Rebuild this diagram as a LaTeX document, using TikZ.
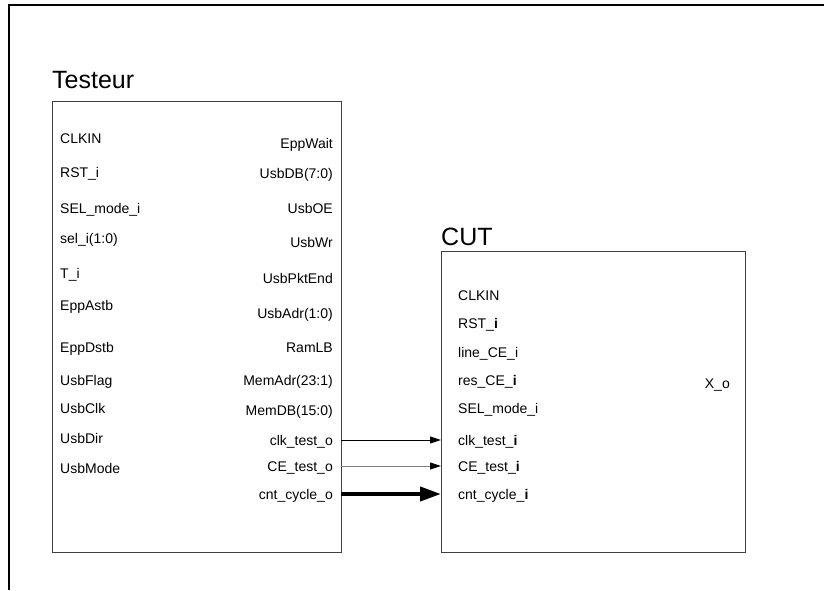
\documentclass[tikz,border=0pt]{standalone}
\usepackage{fontspec}
\setmainfont{Liberation Sans}
\usepackage{xcolor}
\definecolor{edge}{RGB}{64,64,64}
\usepackage{tikz}
\usetikzlibrary{arrows.meta}
\tikzset{
  block/.style={draw=edge,line width=1.2pt,anchor=north west,inner sep=0pt},
  title/.style={font=\fontsize{25}{28}\selectfont,anchor=base west,inner sep=0pt},
  port/.style={font=\fontsize{14}{16}\selectfont,text height=10pt,%
    text depth=0pt,inner ysep=0pt},
  inport/.style={port,anchor=west,inner xsep=8pt},
  outport/.style={port,anchor=east,inner xsep=8pt},
  flow/.style={-{Triangle[length=11pt,width=7pt,color=black]},line width=1pt},
  bus/.style={-{Triangle[length=21pt,width=14pt]},line width=4pt},
}

\begin{document}
\begin{tikzpicture}[x=1pt,y=-1pt]
\useasboundingbox (0,0) rectangle (824,590);
\draw[line width=2pt] (9,590) -- (9,5) -- (824,5);
% blocks
\node[block,minimum width=289pt,minimum height=451pt] (tst) at (52,101) {};
\node[title] (tsttitle) at (52,88) {Testeur};
\node[block,minimum width=304pt,minimum height=301pt] (cut) at (441,251) {};
\node[title] (cuttitle) at (441,245) {CUT};
% Testeur ports
\foreach \y/\t [count=\i] in {138/CLKIN,172/RST\_i,208/SEL\_mode\_i,238/sel\_i(1:0),
    273/T\_i,305/EppAstb,347/EppDstb,380/UsbFlag,408/UsbClk,438/UsbDir,468/UsbMode}
  \node[inport] (tin\i) at (52,\y) {\t};
\foreach \y/\t [count=\i] in {143/EppWait,173/UsbDB(7:0),208/UsbOE,242/UsbWr,
    278/UsbPktEnd,313/UsbAdr(1:0),347/RamLB,380/MemAdr(23:1),410/MemDB(15:0)}
  \node[outport] (tout\i) at (341,\y) {\t};
\node[outport] (clko) at (341,440) {clk\_test\_o};
\node[outport] (ceo) at (341,466) {CE\_test\_o};
\node[outport] (cnto) at (341,494) {cnt\_cycle\_o};
% CUT ports
\foreach \y/\t [count=\i] in {295/CLKIN,323/RST\_\textbf{i},352/line\_CE\_i,
    380/res\_CE\_\textbf{i},408/SEL\_mode\_i}
  \node[inport,inner xsep=17pt] (cin\i) at (441,\y) {\t};
\node[inport,inner xsep=17pt] (clki) at (441,440) {clk\_test\_\textbf{i}};
\node[inport,inner xsep=17pt] (cei) at (441,466) {CE\_test\_\textbf{i}};
\node[inport,inner xsep=17pt] (cnti) at (441,494) {cnt\_cycle\_\textbf{i}};
\node[outport,inner xsep=15pt] (xo) at (745,383) {X\_o};
% links
\draw[flow] (clko.east) -- (clki.west);
\draw[flow,draw=gray] (ceo.east) -- (cei.west);
\draw[bus] (cnto.east) -- (cnti.west);
\end{tikzpicture}
\end{document}
